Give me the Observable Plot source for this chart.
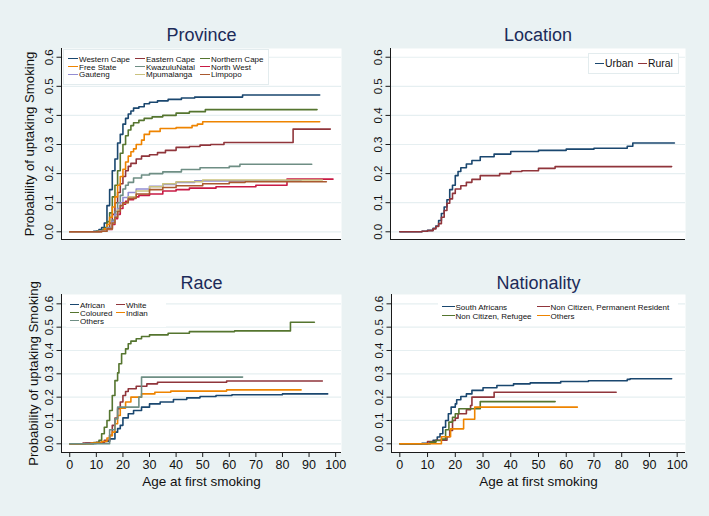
<!DOCTYPE html>
<html>
<head>
<meta charset="utf-8">
<script src="https://cdn.jsdelivr.net/npm/d3@7"></script>
<script src="https://cdn.jsdelivr.net/npm/@observablehq/plot@0.6"></script>
<style>
  html, body { margin: 0; padding: 0; background: #eaf2f3; }
  #root { position: relative; width: 709px; height: 516px; overflow: hidden; background: #eaf2f3;
          font-family: "Liberation Sans", Arial, sans-serif; }
  .panel { position: absolute; }
  .legend { position: absolute; background: #fff; box-sizing: border-box; }
  .item { position: absolute; white-space: nowrap; color: #111; line-height: 1; }
  .swatch { display: inline-block; vertical-align: middle; margin-right: 1px; position: relative; top: -1px; }
</style>
</head>
<body>
<div id="root"></div>
<script>
// ---------------- data (age at first smoking, cumulative probability) ----------------
const yTicks = [0, 0.1, 0.2, 0.3, 0.4, 0.5, 0.6];
const xTicks = [0, 10, 20, 30, 40, 50, 60, 70, 80, 90, 100];

// Province
const provinceNames = ["Western Cape", "Eastern Cape", "Northern Cape", "Free State", "KwazuluNatal", "North West", "Gauteng", "Mpumalanga", "Limpopo"];
const westernCape = [[0,0],[9,0.002],[11,0.008],[12,0.015],[13,0.03],[14,0.09],[15,0.145],[16,0.21],[17,0.25],[18,0.305],[19,0.335],[20,0.37],[21,0.39],[22,0.405],[23,0.415],[24,0.425],[26,0.43],[28,0.44],[30,0.445],[33,0.45],[37,0.455],[42,0.46],[47,0.463],[65,0.47],[94,0.47]];
const easternCape = [[0,0],[11,0.003],[13,0.01],[15,0.03],[16,0.06],[17,0.1],[18,0.135],[19,0.165],[20,0.19],[21,0.21],[22,0.225],[23,0.235],[25,0.25],[27,0.26],[30,0.265],[33,0.272],[36,0.28],[40,0.29],[45,0.293],[49,0.298],[53,0.3],[58,0.307],[84,0.353],[98,0.353]];
const northernCape = [[0,0],[10,0.002],[12,0.006],[13,0.015],[14,0.035],[15,0.065],[16,0.12],[17,0.16],[18,0.21],[19,0.27],[20,0.3],[21,0.33],[22,0.35],[23,0.365],[24,0.375],[26,0.383],[28,0.39],[31,0.395],[35,0.4],[40,0.408],[45,0.413],[51,0.42],[93,0.42]];
const freeState = [[0,0],[11,0.003],[13,0.01],[14,0.025],[15,0.05],[16,0.085],[17,0.12],[18,0.16],[19,0.19],[20,0.215],[21,0.24],[22,0.26],[23,0.275],[24,0.285],[25,0.3],[27,0.315],[28,0.335],[30,0.345],[34,0.355],[40,0.358],[46,0.365],[48,0.37],[50,0.378],[94,0.378]];
const kwazuluNatal = [[0,0],[11,0.002],[14,0.015],[16,0.04],[17,0.07],[18,0.1],[19,0.125],[20,0.147],[21,0.16],[22,0.17],[24,0.185],[27,0.195],[30,0.2],[35,0.206],[42,0.214],[49,0.22],[60,0.225],[64,0.232],[91,0.232]];
const northWest = [[0,0],[12,0.002],[14,0.008],[16,0.025],[17,0.045],[18,0.06],[19,0.08],[20,0.095],[21,0.105],[22,0.11],[24,0.12],[26,0.125],[30,0.13],[35,0.14],[40,0.145],[45,0.15],[55,0.155],[70,0.16],[81.7,0.181],[99,0.181]];
const gauteng = [[0,0],[11,0.002],[14,0.012],[16,0.035],[17,0.06],[18,0.08],[19,0.1],[20,0.118],[22,0.135],[25,0.147],[30,0.156],[35,0.163],[40,0.17],[47,0.175],[87,0.175]];
const mpumalanga = [[0,0],[12,0.002],[14,0.01],[16,0.03],[17,0.05],[18,0.075],[19,0.09],[20,0.1],[22,0.12],[25,0.14],[30,0.155],[35,0.165],[40,0.172],[50,0.178],[95,0.178]];
const limpopo = [[0,0],[12,0.002],[14,0.01],[16,0.03],[17,0.05],[18,0.07],[19,0.09],[20,0.1],[22,0.115],[25,0.13],[30,0.145],[35,0.152],[40,0.158],[50,0.165],[60,0.17],[66,0.172],[96.5,0.172]];

// Location
const locationNames = ["Urban", "Rural"];
const urban = [[0,0],[8,0.002],[10,0.005],[12,0.012],[13,0.02],[14,0.039],[15,0.063],[16,0.085],[17,0.11],[18,0.145],[19,0.16],[20,0.193],[21,0.207],[22,0.22],[24,0.233],[26,0.245],[29,0.258],[34,0.267],[40,0.276],[50,0.28],[60,0.284],[70,0.287],[82,0.294],[84,0.305],[99,0.305]];
const rural = [[0,0],[8,0.002],[10,0.004],[12,0.01],[13,0.018],[14,0.028],[15,0.05],[16,0.073],[17,0.098],[18,0.113],[19,0.132],[20,0.147],[22,0.158],[24,0.17],[26,0.18],[29,0.193],[36,0.2],[40,0.207],[44,0.21],[50,0.218],[56,0.224],[98,0.224]];

// Race
const raceNames = ["African", "White", "Coloured", "Indian", "Others"];
const african = [[0,0],[6,0.002],[10,0.004],[13,0.01],[15,0.021],[17,0.05],[18,0.065],[19,0.079],[20,0.111],[22,0.129],[24,0.143],[27,0.157],[30,0.171],[34,0.179],[39,0.19],[44,0.197],[49,0.203],[55,0.207],[61,0.21],[80,0.214],[97,0.214]];
const white = [[0,0],[5,0.003],[10,0.006],[13,0.015],[15,0.036],[16,0.079],[17,0.11],[18,0.15],[19,0.179],[20,0.207],[21,0.224],[22,0.236],[25,0.247],[29,0.257],[33,0.264],[59,0.269],[95,0.269]];
const coloured = [[0,0],[9,0.005],[11,0.015],[12,0.043],[13,0.071],[14,0.1],[15,0.143],[16,0.207],[17,0.271],[18,0.304],[18.5,0.343],[19.5,0.386],[21,0.407],[22,0.429],[23,0.44],[25,0.45],[27,0.46],[30,0.467],[37,0.474],[45,0.481],[62,0.484],[83,0.521],[92,0.521]];
const indian = [[0,0],[8,0.003],[12,0.01],[14,0.025],[15,0.035],[16,0.05],[17,0.086],[18,0.121],[19,0.153],[21,0.179],[23,0.2],[27,0.214],[32,0.221],[38,0.226],[59,0.231],[87,0.231]];
const raceOthers = [[0,0],[15,0.06],[17,0.107],[18,0.157],[26,0.2],[27,0.286],[65,0.286]];

// Nationality
const nationalityNames = ["South Africans", "Non Citizen, Permanent Resident", "Non Citizen, Refugee", "Others"];
const southAfricans = [[0,0],[8,0.002],[11,0.008],[12,0.015],[13.5,0.029],[14.5,0.043],[15.5,0.071],[16.5,0.1],[17.5,0.129],[18.5,0.157],[20,0.171],[20.5,0.189],[22,0.203],[24,0.214],[26,0.229],[30,0.24],[35,0.25],[41,0.257],[47,0.261],[58,0.267],[68,0.27],[82,0.276],[83,0.279],[98,0.279]];
const permanentResident = [[0,0],[10,0.01],[13,0.015],[17,0.03],[18,0.057],[19,0.1],[20,0.11],[21,0.129],[24,0.146],[25.5,0.164],[26,0.2],[34,0.221],[78,0.221]];
const refugee = [[0,0],[11,0.007],[13,0.014],[15,0.02],[16.5,0.06],[17.7,0.093],[19,0.114],[20,0.129],[21.3,0.15],[29,0.181],[56,0.181]];
const nationalityOthers = [[0,0],[15,0.03],[18.3,0.064],[23,0.105],[27,0.157],[64,0.157]];

// Stata s2color palette
const palette = ["#1a476f", "#90353b", "#55752f", "#ee8400", "#6e8e84", "#c81a44", "#938dd2", "#cac27e", "#a9592f"];

// ---------------- drawing ----------------
const root = document.getElementById("root");
const FONT = "'Liberation Sans', Arial, sans-serif";

function panel(cfg) {
  const data = cfg.names.flatMap((n, i) => cfg.series[i].map(([age, p]) => ({age, p, group: n})));
  const marks = [
    Plot.frame({fill: "white", stroke: "none"}),
    Plot.ruleY(yTicks, {stroke: "#e6eff1", strokeWidth: 1.2}),
    Plot.line(data, {x: "age", y: "p", z: "group", stroke: "group", curve: "step-after", strokeWidth: 1.6}),
    Plot.ruleX([cfg.xDom[0]], {stroke: "#1a1a1a", strokeWidth: 1}),
    Plot.ruleY([cfg.yDom[0]], {stroke: "#1a1a1a", strokeWidth: 1}),
    Plot.axisY(yTicks, {tickSize: 4.5, tickFormat: () => "", label: null, stroke: "#1a1a1a"}),
    Plot.text(yTicks, {y: d => d, text: d => d.toFixed(1), frameAnchor: "left", dx: -8.5, rotate: -90,
      lineAnchor: "bottom", textAnchor: "middle", fontSize: 11.5, fill: "#111"}),
    Plot.text([cfg.title], {frameAnchor: "top", dy: cfg.titleDy, lineAnchor: "bottom", fontSize: 18, fill: "#1c2b59"})
  ];
  if (cfg.yTitle) {
    marks.push(Plot.text([cfg.yTitle], {frameAnchor: "left", dx: cfg.yTitleDx, rotate: -90, lineAnchor: "bottom",
      textAnchor: "middle", fontSize: 13.2, fill: "#111"}));
  }
  if (cfg.showX) {
    marks.push(Plot.axisX(xTicks, {tickSize: 5, tickPadding: 3, fontSize: 12.5, label: null, stroke: "#1a1a1a", fill: "#111"}));
    marks.push(Plot.text(["Age at first smoking"], {frameAnchor: "bottom", dy: 33, lineAnchor: "bottom", fontSize: 13.5, fill: "#111"}));
  }
  const svg = Plot.plot({
    width: cfg.width, height: cfg.height,
    marginLeft: cfg.mL, marginRight: cfg.mR, marginTop: cfg.mT, marginBottom: cfg.mB,
    x: {domain: cfg.xDom, axis: null},
    y: {domain: cfg.yDom, axis: null},
    color: {domain: cfg.names, range: palette.slice(0, cfg.names.length)},
    style: {background: "transparent", fontFamily: FONT, overflow: "visible"},
    marks
  });
  const div = document.createElement("div");
  div.className = "panel";
  div.style.left = cfg.left + "px";
  div.style.top = cfg.top + "px";
  div.appendChild(svg);
  root.appendChild(div);
}

function legend(cfg) {
  const box = document.createElement("div");
  box.className = "legend";
  box.style.left = cfg.left + "px";
  box.style.top = cfg.top + "px";
  box.style.width = cfg.width + "px";
  box.style.height = cfg.height + "px";
  box.style.border = cfg.border ? "1px solid #e3ecee" : "none";
  cfg.names.forEach((n, i) => {
    const col = i % cfg.cols, row = Math.floor(i / cfg.cols);
    const it = document.createElement("div");
    it.className = "item";
    it.style.left = cfg.colX[col] + "px";
    it.style.top = (cfg.row0 + row * cfg.rowStep) + "px";
    it.style.fontSize = cfg.fontSize + "px";
    const sw = document.createElement("span");
    sw.className = "swatch";
    sw.style.width = cfg.swatch + "px";
    sw.style.borderTop = "1.6px solid " + palette[i];
    it.appendChild(sw);
    it.appendChild(document.createTextNode(n));
    box.appendChild(it);
  });
  root.appendChild(box);
}

const yTitle = "Probability of uptaking Smoking";

panel({left: 0, top: 0, width: 355, height: 255, mL: 61, mR: 14, mT: 48, mB: 16,
  xDom: [-3.1, 102.2], yDom: [-0.0265, 0.63], names: provinceNames,
  series: [westernCape, easternCape, northernCape, freeState, kwazuluNatal, northWest, gauteng, mpumalanga, limpopo],
  title: "Province", titleDy: -8, yTitle, yTitleDx: -28, showX: false});

panel({left: 355, top: 0, width: 354, height: 255, mL: 35, mR: 24, mT: 48, mB: 16,
  xDom: [-3.35, 103], yDom: [-0.0265, 0.63], names: locationNames,
  series: [urban, rural], title: "Location", titleDy: -8, showX: false});

panel({left: 0, top: 255, width: 355, height: 261, mL: 61, mR: 14, mT: 39, mB: 64,
  xDom: [-3.1, 102.2], yDom: [-0.0373, 0.64], names: raceNames,
  series: [african, white, coloured, indian, raceOthers],
  title: "Race", titleDy: -6, yTitle, yTitleDx: -23.5, showX: true});

panel({left: 355, top: 255, width: 354, height: 261, mL: 36, mR: 24, mT: 39, mB: 64,
  xDom: [-3.0, 103], yDom: [-0.0373, 0.64], names: nationalityNames,
  series: [southAfricans, permanentResident, refugee, nationalityOthers],
  title: "Nationality", titleDy: -6, showX: true});

legend({left: 63, top: 49, width: 206, height: 36, border: true, names: provinceNames, cols: 3,
  colX: [4, 71, 136], row0: 6, rowStep: 7.7, fontSize: 8, swatch: 10});
legend({left: 588, top: 53, width: 91, height: 21, border: true, names: locationNames, cols: 2,
  colX: [6, 49], row0: 5, rowStep: 0, fontSize: 10.4, swatch: 9});
legend({left: 66, top: 299, width: 100, height: 28, border: false, names: raceNames, cols: 2,
  colX: [4, 50], row0: 3, rowStep: 8, fontSize: 8, swatch: 9});
legend({left: 438, top: 301, width: 240, height: 20, border: false, names: nationalityNames, cols: 2,
  colX: [4, 99], row0: 3, rowStep: 9, fontSize: 8, swatch: 12.5});
</script>
</body>
</html>
